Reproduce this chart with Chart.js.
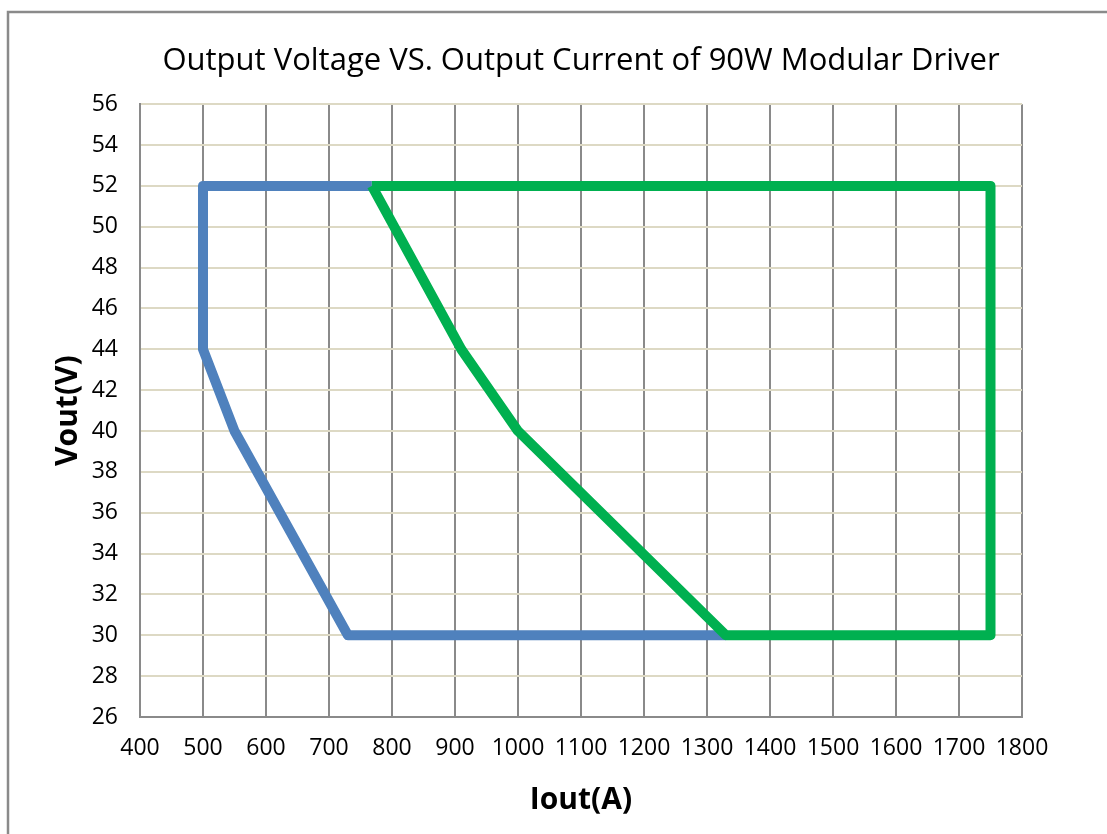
<!DOCTYPE html>
<html>
<head>
<meta charset="utf-8">
<script src="https://cdn.jsdelivr.net/npm/chart.js@4/dist/chart.umd.min.js"></script>
<style>
  html, body { margin: 0; padding: 0; background: #fff; }
  canvas { display: block; }
</style>
</head>
<body>
<canvas id="ivChart" width="1107" height="834"></canvas>
<script>
// 藍色區域 (低電流)
const blueIout = [1330, 730, 550, 500, 500, 768];
const blueVout = [30, 30, 40, 44, 52, 52];

// 綠色區域 (高電流)
const greenIout = [768, 1750, 1750, 1330, 1000, 910, 768];
const greenVout = [52, 52, 30, 30, 40, 44, 52];

// 座標軸刻度
const xTicks = [400, 500, 600, 700, 800, 900, 1000, 1100, 1200, 1300, 1400, 1500, 1600, 1700, 1800];
const yTicks = [26, 28, 30, 32, 34, 36, 38, 40, 42, 44, 46, 48, 50, 52, 54, 56];

const toPoints = (xs, ys) => xs.map((x, i) => ({ x: x, y: ys[i] }));

const FONT = "'Open Sans', 'Liberation Sans', sans-serif";

// 外框 (上緣與左緣)
const framePlugin = {
  id: "frame",
  beforeDraw(chart) {
    const ctx = chart.ctx;
    ctx.save();
    ctx.strokeStyle = "#8a8a8a";
    ctx.lineWidth = 2.5;
    ctx.beginPath();
    ctx.moveTo(8, chart.height);
    ctx.lineTo(8, 12);
    ctx.lineTo(chart.width, 12);
    ctx.stroke();
    ctx.restore();
  }
};

new Chart(document.getElementById("ivChart").getContext("2d"), {
  type: "scatter",
  data: {
    datasets: [
      {
        label: "blue",
        data: toPoints(blueIout, blueVout),
        showLine: true,
        borderColor: "#4f81bd",
        backgroundColor: "#4f81bd",
        borderWidth: 10,
        borderJoinStyle: "round",
        borderCapStyle: "butt",
        pointRadius: 0,
        order: 1
      },
      {
        label: "green",
        data: toPoints(greenIout, greenVout),
        showLine: true,
        borderColor: "#00b050",
        backgroundColor: "#00b050",
        borderWidth: 10,
        borderJoinStyle: "round",
        borderCapStyle: "butt",
        pointRadius: 0,
        order: 0
      }
    ]
  },
  options: {
    responsive: false,
    animation: false,
    devicePixelRatio: 1,
    layout: { padding: { left: 0, right: 85, top: 0, bottom: 0 } },
    plugins: {
      legend: { display: false },
      tooltip: { enabled: false },
      title: {
        display: true,
        fullSize: false,
        text: "Output Voltage VS. Output Current of 90W Modular Driver",
        color: "#000",
        font: { family: FONT, size: 31, weight: "normal" },
        padding: { top: 43, bottom: 24 }
      }
    },
    scales: {
      x: {
        type: "linear",
        min: xTicks[0],
        max: xTicks[xTicks.length - 1],
        afterFit(scale) { scale.height = 117; },
        afterBuildTicks(scale) { scale.ticks = xTicks.map(v => ({ value: v })); },
        ticks: {
          color: "#000",
          font: { family: FONT, size: 23 },
          padding: 18,
          maxRotation: 0,
          callback: v => String(v)
        },
        grid: { color: "#8a8a8a", lineWidth: 2, drawTicks: false },
        border: { color: "#8a8a8a", width: 2 },
        title: {
          display: true,
          text: "Iout(A)",
          color: "#000",
          font: { family: FONT, size: 30, weight: "bold" },
          padding: { top: 0, bottom: 16 }
        }
      },
      y: {
        type: "linear",
        min: yTicks[0],
        max: yTicks[yTicks.length - 1],
        afterFit(scale) { scale.width = 140; },
        afterBuildTicks(scale) { scale.ticks = yTicks.map(v => ({ value: v })); },
        ticks: {
          color: "#000",
          font: { family: FONT, size: 23 },
          padding: 22,
          callback: v => String(v)
        },
        grid: { color: "#ddd9c4", lineWidth: 2, drawTicks: false },
        border: { color: "#8a8a8a", width: 2 },
        title: {
          display: true,
          text: "Vout(V)",
          color: "#000",
          font: { family: FONT, size: 30, weight: "bold" },
          padding: { top: 50, bottom: 0 }
        }
      }
    }
  },
  plugins: [framePlugin]
});
</script>
</body>
</html>
